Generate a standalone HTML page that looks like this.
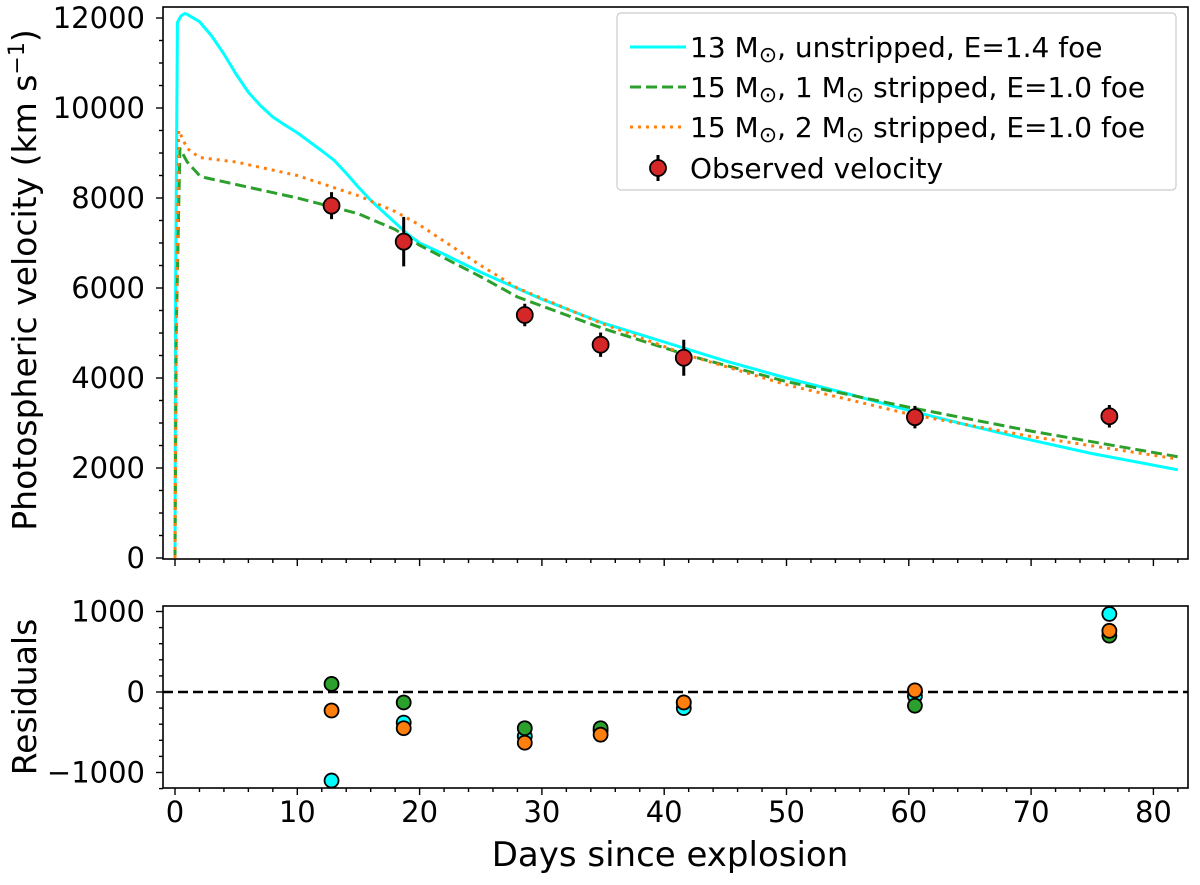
<!DOCTYPE html>
<html><head><meta charset="utf-8"><style>
body{margin:0;background:#fff}
svg{font-family:"DejaVu Sans","Liberation Sans",sans-serif}
</style></head><body>
<svg id="c" width="1200" height="880" viewBox="0 0 1200 880"></svg>
<script>
const obsDays=[12.8,18.7,28.6,34.8,41.6,60.5,76.4];
const obsVel=[7830,7030,5400,4740,4450,3130,3150];
const obsErr=[300,550,250,270,400,250,250];
const cyanT=[0,0.05,0.2,0.5,0.8,1,2,3,4,5,6,7,8,9,10,11,12,13,14,15,16,17,18,19,20,22,25,30,35,40,45,50,55,60,65,70,75,82];
const cyanV=[0,6000,11900,12050,12100,12080,11920,11600,11200,10750,10350,10050,9800,9620,9450,9250,9050,8840,8550,8240,7950,7700,7450,7200,7000,6750,6350,5750,5220,4800,4380,4000,3650,3280,2940,2620,2320,1960];
const greenT=[0,0.1,0.4,1,2,2.5,5,10,15,18,20,25,28,35,42,50,60,70,82];
const greenV=[0,5000,9100,8800,8500,8450,8300,8000,7650,7300,6950,6250,5800,5100,4500,3920,3350,2820,2250];
const orangeT=[0,0.1,0.3,1,2,5,10,15,18,20,25,28,35,42,50,60,70,82];
const orangeV=[0,5000,9500,9100,8900,8800,8500,8050,7700,7400,6500,6000,5200,4500,3850,3200,2700,2200];
const resCyan=[-1100,-380,-550,-480,-200,-50,970];
const resGreen=[100,-130,-450,-450,-130,-170,700];
const resOrange=[-230,-450,-630,-530,-130,20,760];
const xTicks=[0,10,20,30,40,50,60,70,80];
const yTicks=[0,2000,4000,6000,8000,10000,12000];
const rTicks=[-1000,0,1000];

const NS="http://www.w3.org/2000/svg";
const svg=document.getElementById('c');
function el(t,a,p){const e=document.createElementNS(NS,t);for(const k in a)e.setAttribute(k,a[k]);(p||svg).appendChild(e);return e;}
const L=163,R=1188,T1=7,B1=559,T2=606,B2=788;
const X=d=>175+d*12.23;
const Y=v=>558-v*0.045;
const YR=v=>692-v*0.0805;
let f=el('rect',{x:L,y:T1,width:R-L,height:B1-T1,fill:'none',stroke:'#000','stroke-width':1.6});

f=el('rect',{x:L,y:T2,width:R-L,height:B2-T2,fill:'none',stroke:'#000','stroke-width':1.6});

for(let d=0;d<=82;d+=2){const major=d%10===0;
 el('line',{x1:X(d),x2:X(d),y1:B1,y2:B1+(major?7:4),stroke:'#000','stroke-width':1.4});
 el('line',{x1:X(d),x2:X(d),y1:B2,y2:B2+(major?7:4),stroke:'#000','stroke-width':1.4});}
xTicks.forEach(d=>{const t=el('text',{x:X(d),y:B2+34,'font-size':29,'text-anchor':'middle'});t.textContent=d;
 });
for(let v=0;v<=12000;v+=500){const major=v%2000===0;el('line',{x1:L,x2:L-(major?7:4),y1:Y(v),y2:Y(v),stroke:'#000','stroke-width':1.4});}
yTicks.forEach(v=>{const t=el('text',{x:L-18,y:Y(v)+10,'font-size':29,'text-anchor':'end'});t.textContent=v;
 });
for(let v=-1200;v<=1000;v+=200){const major=v%1000===0;el('line',{x1:L,x2:L-(major?7:4),y1:YR(v),y2:YR(v),stroke:'#000','stroke-width':1.4});}
rTicks.forEach(v=>{const t=el('text',{x:L-18,y:YR(v)+10,'font-size':29,'text-anchor':'end'});t.textContent=v===-1000?'\u22121000':v;
 });
let t=el('text',{x:670,y:866,'font-size':34,'text-anchor':'middle'});t.textContent='Days since explosion';

t=el('text',{transform:'translate(36,280) rotate(-90)','font-size':33,'text-anchor':'middle'});
t.innerHTML='Photospheric velocity (km s<tspan dy="-12" font-size="22">\u22121</tspan><tspan dy="12">)</tspan>';

t=el('text',{transform:'translate(36,697) rotate(-90)','font-size':33,'text-anchor':'middle'});t.textContent='Residuals';

const cp=el('clipPath',{id:'cp'});el('rect',{x:L,y:T1,width:R-L,height:B1-T1},cp);
function line(ts,vs,style,name){const p=el('polyline',Object.assign({points:ts.map((d,i)=>X(d)+','+Y(vs[i])).join(' '),fill:'none','clip-path':'url(#cp)','stroke-linejoin':'round'},style));
 }
line(cyanT,cyanV,{stroke:'#00ffff','stroke-width':3},'line-13msun-unstripped');
line(greenT,greenV,{stroke:'#2ca02c','stroke-width':3,'stroke-dasharray':'11,5'},'line-15msun-1msun-stripped');
line(orangeT,orangeV,{stroke:'#ff7f0e','stroke-width':3,'stroke-dasharray':'3,5'},'line-15msun-2msun-stripped');
obsDays.forEach((d,i)=>{
 const e=el('line',{x1:X(d),x2:X(d),y1:Y(obsVel[i]-obsErr[i]),y2:Y(obsVel[i]+obsErr[i]),stroke:'#000','stroke-width':3});
 
 const c=el('circle',{cx:X(d),cy:Y(obsVel[i]),r:8,fill:'#d62728',stroke:'#000','stroke-width':1.8});
 });
const z=el('line',{x1:L,x2:R,y1:YR(0),y2:YR(0),stroke:'#000','stroke-width':2.5,'stroke-dasharray':'10,5'});

[[resCyan,'#00ffff','residual-cyan'],[resGreen,'#2ca02c','residual-green'],[resOrange,'#ff7f0e','residual-orange']].forEach(([arr,col,nm])=>{
 arr.forEach((v,i)=>{const c=el('circle',{cx:X(obsDays[i]),cy:YR(v),r:7,fill:col,stroke:'#000','stroke-width':1.8});
 });});
const g=el('g',{});
el('rect',{x:617,y:13,width:559,height:177,rx:4,fill:'#fff',stroke:'#ccc','stroke-width':1.2},g);
const S='<tspan font-size="22" dy="5">\u2299</tspan><tspan dy="-5">';
const leg=[['13 M'+S+', unstripped, E=1.4 foe</tspan>',{stroke:'#00ffff'}],
['15 M'+S+', 1 M</tspan>'+S+' stripped, E=1.0 foe</tspan>',{stroke:'#2ca02c','stroke-dasharray':'11,5'}],
['15 M'+S+', 2 M</tspan>'+S+' stripped, E=1.0 foe</tspan>',{stroke:'#ff7f0e','stroke-dasharray':'3,5'}]];
leg.forEach((l,i)=>{const y=47+i*40;
 el('line',Object.assign({x1:630,x2:686,y1:y,y2:y,'stroke-width':3},l[1]),g);
 const tt=el('text',{x:690,y:y+10,'font-size':28},g);tt.innerHTML=l[0];
 });
el('line',{x1:658,x2:658,y1:155,y2:181,stroke:'#000','stroke-width':3},g);
el('circle',{cx:658,cy:168,r:8,fill:'#d62728',stroke:'#000','stroke-width':1.8},g);
t=el('text',{x:690,y:178,'font-size':28},g);t.textContent='Observed velocity';

</script>
</body></html>
